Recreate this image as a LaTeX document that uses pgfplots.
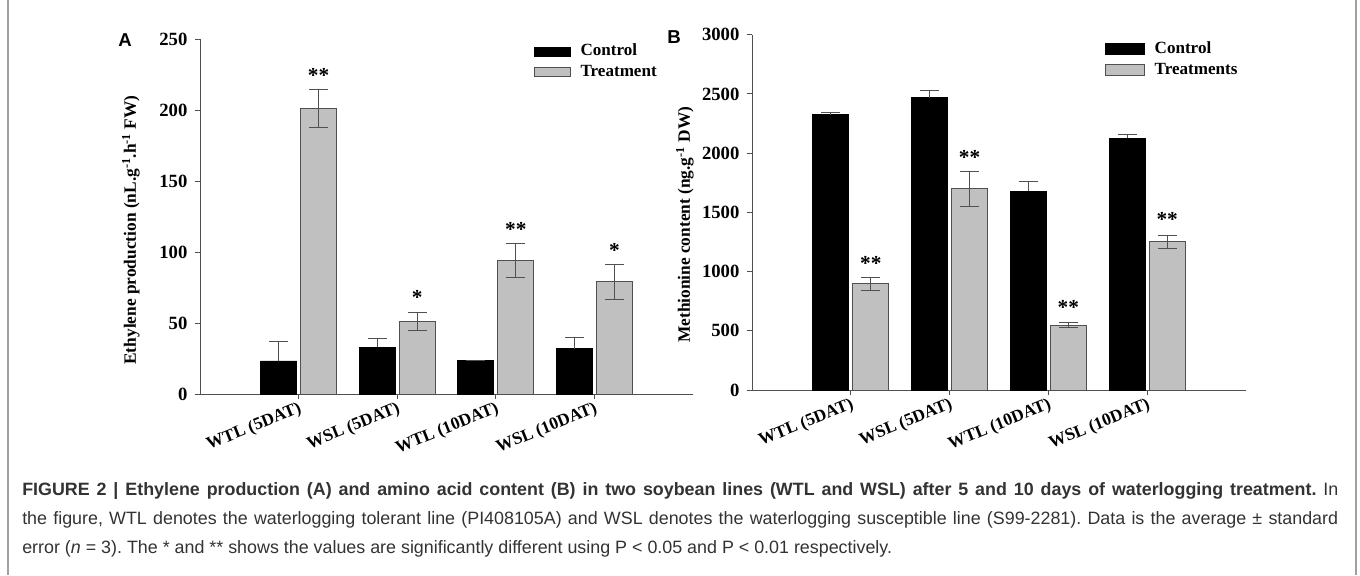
\documentclass[border=0pt]{standalone}
\usepackage{fontspec}
\setmainfont{Liberation Serif}
\newfontfamily\capfont{Liberation Sans}
\usepackage{pgfplots}
\pgfplotsset{compat=1.18}
\definecolor{barg}{HTML}{C0C0C0}
\definecolor{edge}{HTML}{505050}
\definecolor{capc}{HTML}{333333}
\definecolor{framec}{HTML}{A0A0A0}
\pgfplotsset{
  panel/.style={
    scale only axis, width=369.75pt, height=266.25pt,
    axis x line*=bottom, axis y line*=left,
    axis line style={edge, line width=0.75pt},
    xmin=0, xmax=5, ymin=0,
    xtick={1,2,3,4},
    xticklabels={WTL (5DAT), WSL (5DAT), WTL (10DAT), WSL (10DAT)},
    tick align=outside, major tick length=3.75pt,
    tick style={edge, line width=0.75pt},
    yticklabel style={font=\fontsize{14}{16}\selectfont\bfseries, inner sep=2pt, xshift=-3.5pt},
    xticklabel style={font=\fontsize{13}{14}\selectfont\bfseries, rotate=22, anchor=north east, inner sep=1pt},
    /pgf/number format/assume math mode=true,
    /pgf/number format/1000 sep={},
    ybar, bar width=27pt,
    label style={font=\fontsize{13}{15}\selectfont\bfseries},
    legend cell align=left,
    legend style={draw=none, fill=none, anchor=north west,
      font=\fontsize{12.8}{14}\selectfont\bfseries, row sep=1pt,
      nodes={inner sep=1.5pt, text height=9pt, text depth=2.5pt}},
    legend image code/.code={\draw[#1] (0pt,-3.5pt) rectangle (27pt,3.5pt); \path (33pt,0pt);},
    clip=false,
  },
  ctrl/.style={fill=black, draw=black, line width=0.5pt, bar shift=-15pt,
    error bars/.cd, y dir=plus, y explicit,
    error bar style={edge, line width=0.75pt},
    error mark options={rotate=90, edge, mark size=7.2pt, line width=0.75pt}},
  trt/.style={fill=barg, draw=edge, line width=0.75pt, bar shift=15pt,
    error bars/.cd, y dir=both, y explicit,
    error bar style={edge, line width=0.75pt},
    error mark options={rotate=90, edge, mark size=7.2pt, line width=0.75pt}},
}
\tikzset{star/.style={font=\fontsize{16}{17}\selectfont\bfseries, inner sep=0pt, anchor=center}}
\begin{document}
\begin{tikzpicture}
\path[use as bounding box] (0,0) rectangle (1020pt,-431.25pt);
\fill[white] (0,0) rectangle (1020pt,-431.25pt);
\draw[framec, line width=1.5pt] (6pt,0) -- (6pt,-431.25pt);
\draw[framec, line width=1.5pt] (1017pt,0) -- (1017pt,-431.25pt);

% Panel A
\begin{axis}[panel, at={(150pt,-295.5pt)}, anchor=south west,
  ymax=250, ytick={0,50,100,150,200,250},
  ylabel={Ethylene production (nL.g\textsuperscript{-1}.h\textsuperscript{-1} FW)},
  ylabel style={at={(axis description cs:-0.14,0.462)}, anchor=center},
  legend style={at={(axis description cs:0.668,1.0)}},
]
\addplot[ctrl] coordinates {(1,23.3) +- (0,13.4) (2,33) +- (0,6) (3,23.5) +- (0,0.3) (4,32) +- (0,8)};
\addlegendentry{Control}
\addplot[trt] coordinates {(1,201) +- (0,13.5) (2,51) +- (0,6.3) (3,94) +- (0,12) (4,79) +- (0,12.5)};
\addlegendentry{Treatment}
\node[star] at ([xshift=15pt,yshift=-3pt]axis cs:1,226.8) {**};
\node[star] at ([xshift=15pt,yshift=-3pt]axis cs:2,71) {*};
\node[star] at ([xshift=15pt,yshift=-3pt]axis cs:3,119) {**};
\node[star] at ([xshift=15pt,yshift=-3pt]axis cs:4,103.7) {*};
\end{axis}

% Panel B
\begin{axis}[panel, at={(564pt,-292.5pt)}, anchor=south west,
  width=370.5pt, height=266.5pt,
  ymax=3000, ytick={0,500,1000,1500,2000,2500,3000},
  ylabel={Methionine content (ng.g\textsuperscript{-1} DW)},
  ylabel style={at={(axis description cs:-0.136,0.465)}, anchor=center},
  legend style={at={(axis description cs:0.706,0.995)}},
  legend image code/.code={\draw[#1] (0pt,-4pt) rectangle (29pt,4pt); \path (35pt,0pt);},
]
\addplot[ctrl] coordinates {(1,2325) +- (0,17) (2,2468) +- (0,64) (3,1680) +- (0,78) (4,2127) +- (0,28)};
\addlegendentry{Control}
\addplot[trt] coordinates {(1,897) +- (0,53) (2,1700) +- (0,148) (3,548) +- (0,20) (4,1250) +- (0,58)};
\addlegendentry{Treatments}
\node[star] at ([xshift=15pt,yshift=-3pt]axis cs:1,1102) {**};
\node[star] at ([xshift=15pt,yshift=-3pt]axis cs:2,1998) {**};
\node[star] at ([xshift=15pt,yshift=-3pt]axis cs:3,731) {**};
\node[star] at ([xshift=15pt,yshift=-3pt]axis cs:4,1475) {**};
\end{axis}

\node[font=\capfont\bfseries\fontsize{14}{15}\selectfont] at (93.75pt,-30pt) {A};
\node[font=\capfont\bfseries\fontsize{14}{15}\selectfont] at (505.5pt,-27.75pt) {B};

\node[anchor=base west, inner sep=0pt, text width=987pt, align=justify, text=capc,
  font=\capfont\fontsize{13.4}{21.75}\selectfont] at (16.5pt,-371.25pt)
  {\frenchspacing\hyphenpenalty=10000 {\bfseries FIGURE 2 | Ethylene production (A) and amino acid content (B) in two soybean lines (WTL and WSL) after 5 and 10 days of waterlogging treatment.} In\linebreak the figure, WTL denotes the waterlogging tolerant line (PI408105A) and WSL denotes the waterlogging susceptible line (S99-2281). Data is the average ± standard\linebreak error (\textit{n} = 3). The * and ** shows the values are significantly different using P < 0.05 and P < 0.01 respectively.};
\end{tikzpicture}
\end{document}
